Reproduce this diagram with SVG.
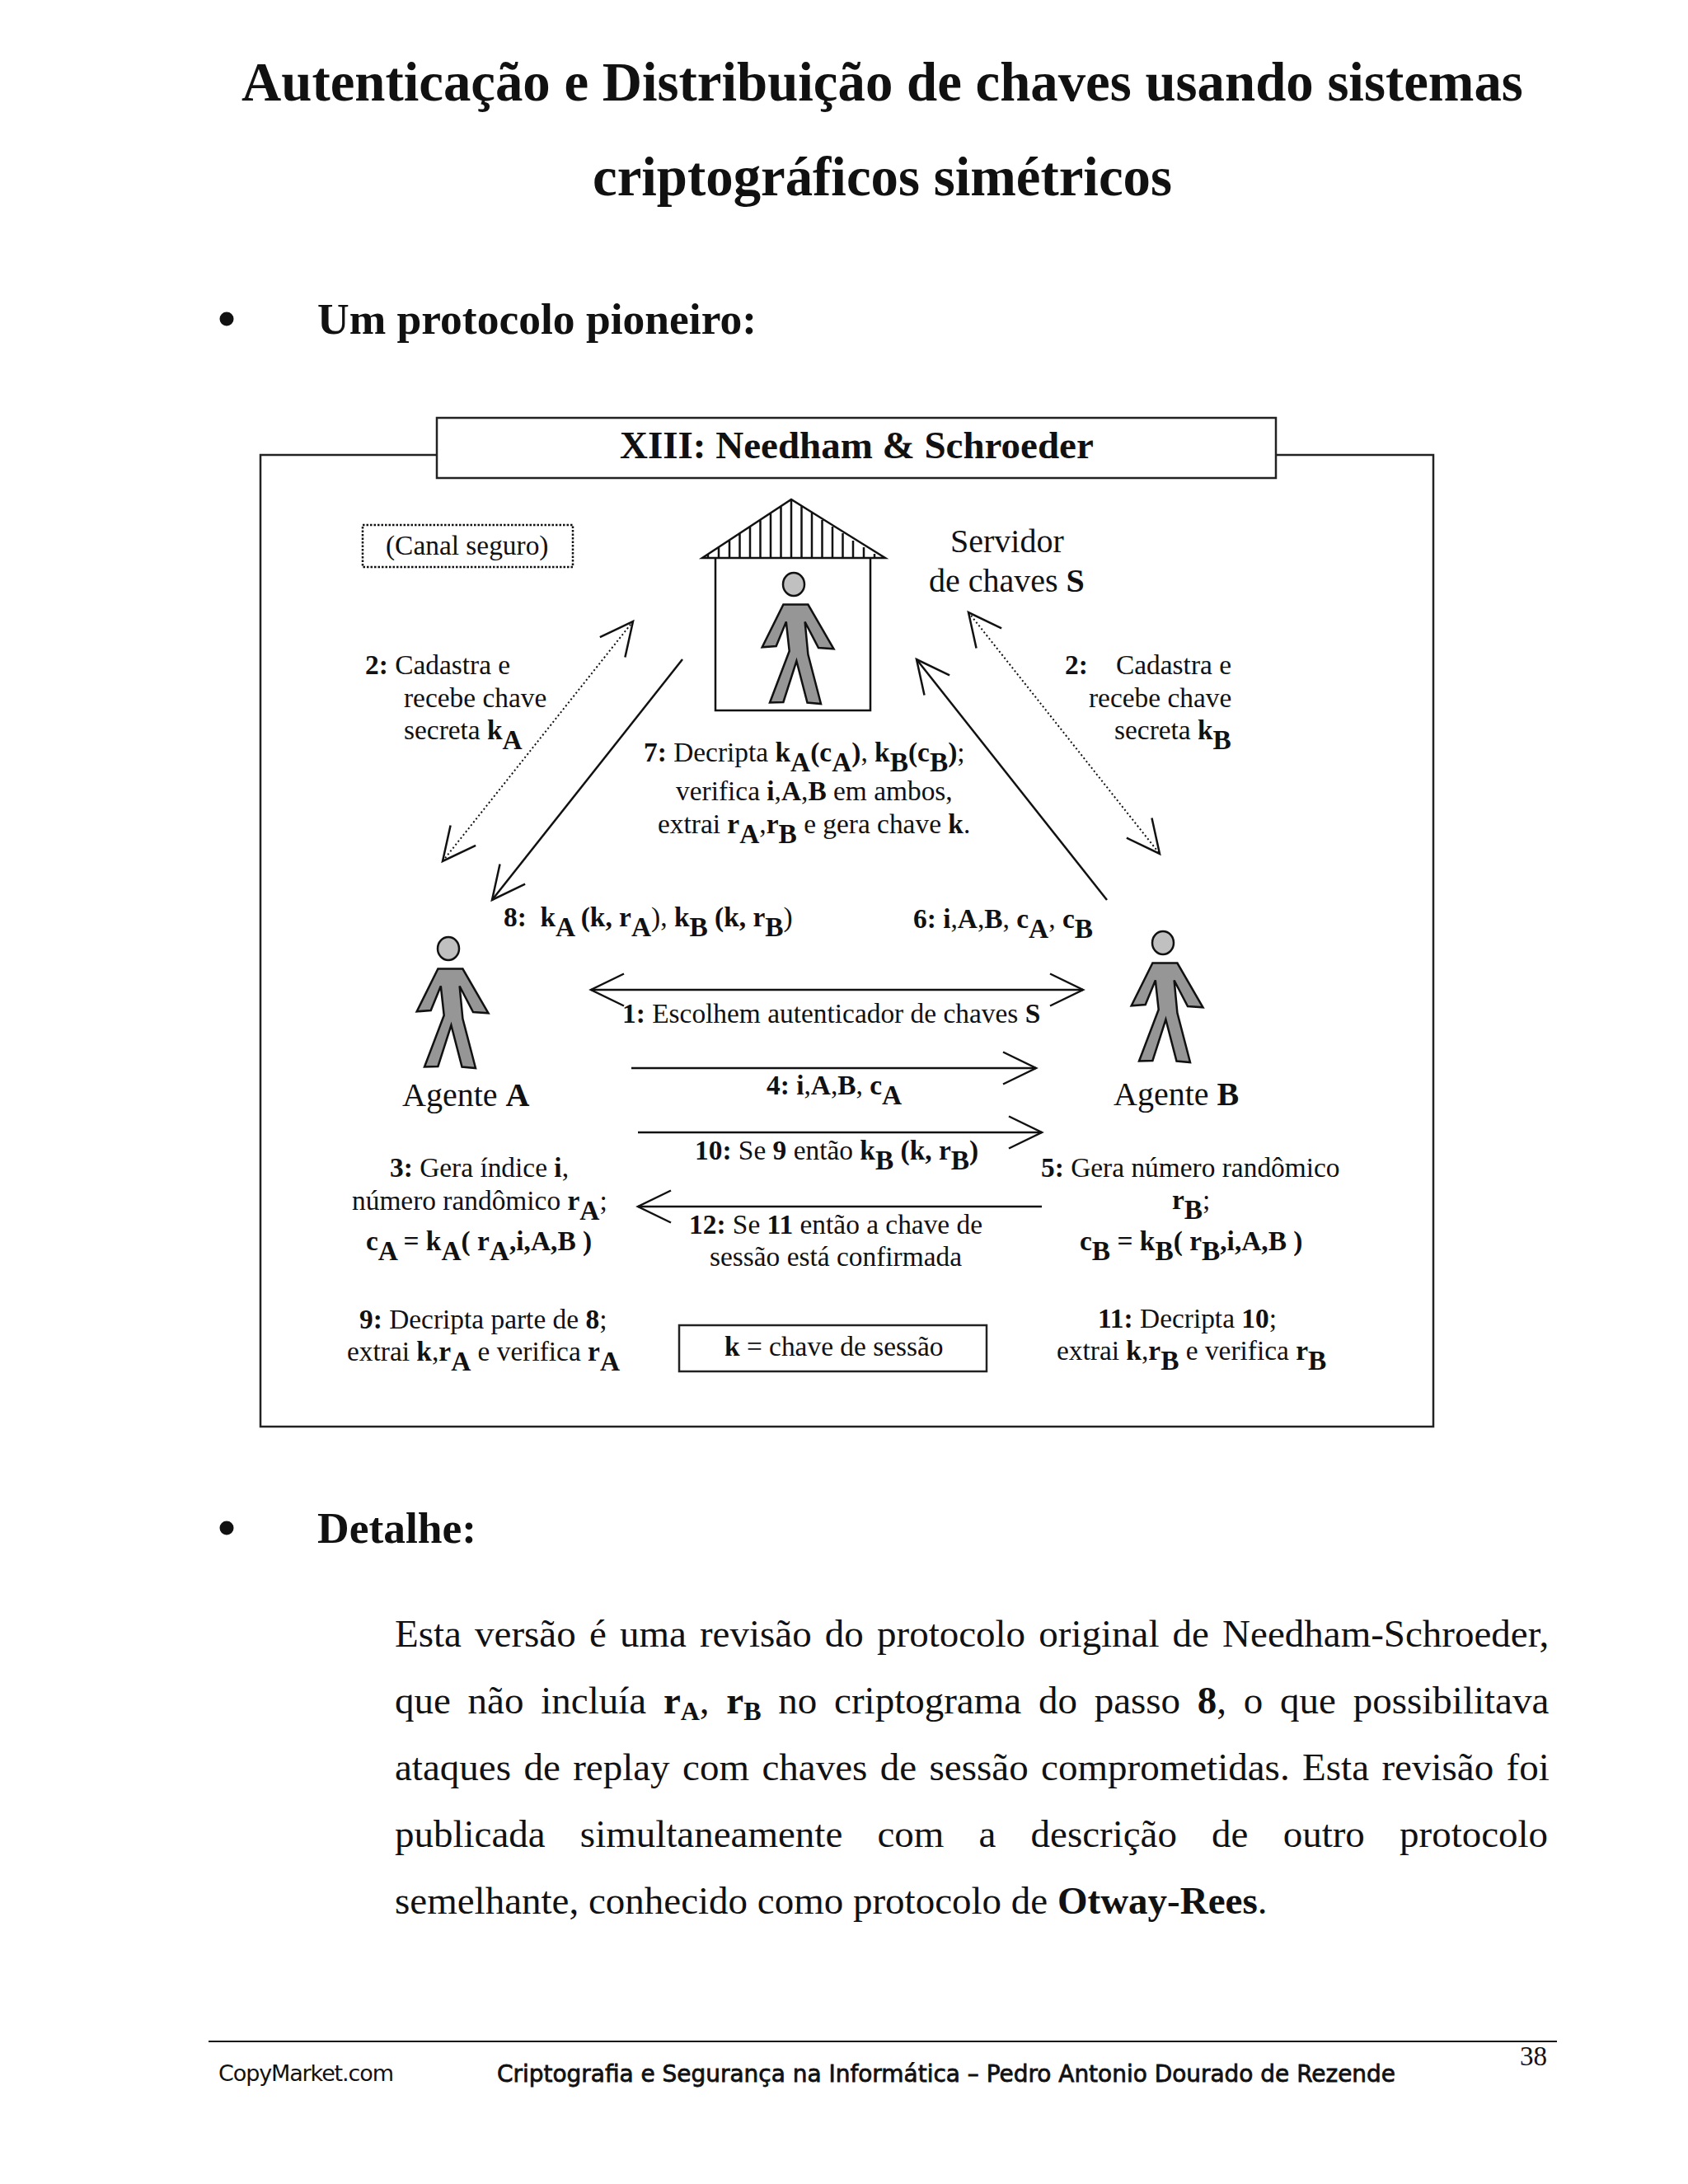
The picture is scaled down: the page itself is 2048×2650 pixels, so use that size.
<svg xmlns="http://www.w3.org/2000/svg" width="2048" height="2650" viewBox="0 0 2048 2650">
<style>
text{font-family:"Liberation Serif","Times New Roman",serif;fill:#111;white-space:pre}
.h1{font-size:66.8px;font-weight:bold}
.h2{font-size:53.5px;font-weight:bold}
.p{font-size:47px}
.d{font-size:33.4px}
.l{font-size:40px}
.b{font-weight:bold}
.fr{fill:#fff;stroke:#222;stroke-width:2.5}
.ln{fill:none;stroke:#111;stroke-width:2.5}
.dot{fill:none;stroke:#111;stroke-width:2;stroke-dasharray:2 3}
.solid{fill:none;stroke:#111;stroke-width:2.5}
.ar{marker-start:url(#open);marker-end:url(#open)}
.ae{marker-end:url(#open)}
</style>
<defs>
<marker id="open" orient="auto-start-reverse" markerUnits="userSpaceOnUse" markerWidth="60" markerHeight="60" refX="44" refY="22" viewBox="0 0 60 60"><path d="M4,2.5L44,22L4,41.5" fill="none" stroke="#111" stroke-width="2.5"/></marker>
<g id="person">
<ellipse cx="0" cy="0" rx="13" ry="14" fill="#c0c0c0" stroke="#111" stroke-width="2.5"/>
<path d="M-12.6,24.5L17.4,24.5L48.5,78.3L30,77L13.6,45.5L17.4,85L33,145L16.5,143.5L3.4,93L-12.6,143L-29,143.5L-5.3,81L-9.2,45.5L-21.3,75L-38.3,76.3Z" fill="#969696" stroke="#111" stroke-width="2.5" stroke-linejoin="miter"/>
</g>
</defs>
<rect width="2048" height="2650" fill="#fff"/>
<g id="heading">
<text class="h1" x="293" y="122">Autenticação e Distribuição de chaves usando sistemas</text>
<text class="h1" x="719" y="237">criptográficos simétricos</text>
<circle cx="275" cy="387" r="8.5" fill="#111"/>
<text class="h2" x="385" y="405">Um protocolo pioneiro:</text>
</g>
<g id="frame"><rect class="fr" x="316" y="552" width="1423" height="1179"/></g>
<g id="title-box"><rect class="fr" x="530" y="507" width="1018" height="73"/>
<text x="752" y="556" class="b" font-size="47">XIII: Needham &amp; Schroeder</text></g>
<g id="canal"><rect x="440" y="637" width="255" height="51" fill="#fff" stroke="#111" stroke-width="2.5" stroke-dasharray="2.5 2"/>
<text class="d" x="468" y="673">(Canal seguro)</text></g>
<g id="server">
<path class="ln" d="M852,677L960,606L1074,677ZM868,677V862H1056V677M859,672V677M872,664V677M885,656V677M897.500,647V677M910,639V677M922.500,631V677M935,622V677M947.500,614V677M960,606V677M972.500,614V677M985,622V677M997.500,631V677M1010,639V677M1022.500,647V677M1035,656V677M1048,664V677M1061,672V677"/>
<use href="#person" x="963" y="709"/>
<text class="l" x="1153" y="670">Servidor</text>
<text class="l" x="1127" y="718">de chaves <tspan class="b">S</tspan></text>
</g>
<g id="agent-a"><use href="#person" x="544" y="1151"/><text class="l" x="488" y="1342">Agente <tspan class="b">A</tspan></text></g>
<g id="agent-b"><use href="#person" x="1411" y="1144"/><text class="l" x="1351" y="1341">Agente <tspan class="b">B</tspan></text></g>
<g id="connectors">
<path class="dot ar" d="M537,1045L768,754"/>
<path class="dot ar" d="M1175,743L1407,1036"/>
<path class="solid ae" d="M828,800L597,1092"/>
<path class="solid ae" d="M1343,1092L1112,800"/>
<path class="solid ar" d="M717,1201H1314"/>
<path class="solid ae" d="M766,1296H1257"/>
<path class="solid ae" d="M774,1374H1264"/>
<path class="solid ae" d="M1264,1464H774"/>
</g>
<g id="labels">
<g id="label-2a">
<text class="d" x="443" y="818"><tspan class="b">2:</tspan> Cadastra e</text>
<text class="d" x="490" y="858">recebe chave</text>
<text class="d" x="490" y="897">secreta <tspan class="b">k</tspan><tspan class="b" dy="12">A</tspan></text>
</g>
<g id="label-2b">
<text class="d b" x="1292" y="818">2:</text><text class="d" x="1354" y="818">Cadastra e</text>
<text class="d" x="1321" y="858">recebe chave</text>
<text class="d" x="1352" y="897">secreta <tspan class="b">k</tspan><tspan class="b" dy="12">B</tspan></text>
</g>
<g id="label-7">
<text class="d" x="781" y="924"><tspan class="b">7:</tspan> Decripta <tspan class="b">k</tspan><tspan class="b" dy="12">A</tspan><tspan class="b" dy="-12">(c</tspan><tspan class="b" dy="12">A</tspan><tspan class="b" dy="-12">)</tspan>, <tspan class="b">k</tspan><tspan class="b" dy="12">B</tspan><tspan class="b" dy="-12">(c</tspan><tspan class="b" dy="12">B</tspan><tspan class="b" dy="-12">)</tspan>;</text>
<text class="d" x="820" y="971">verifica <tspan class="b">i</tspan>,<tspan class="b">A</tspan>,<tspan class="b">B</tspan> em ambos,</text>
<text class="d" x="798" y="1011">extrai <tspan class="b">r</tspan><tspan class="b" dy="12">A</tspan><tspan dy="-12">,</tspan><tspan class="b">r</tspan><tspan class="b" dy="12">B</tspan><tspan dy="-12"> e gera chave </tspan><tspan class="b">k</tspan>.</text>
</g>
<text id="label-8" class="d" x="611" y="1124"><tspan class="b">8:  k</tspan><tspan class="b" dy="12">A</tspan><tspan class="b" dy="-12"> (k, r</tspan><tspan class="b" dy="12">A</tspan><tspan dy="-12">), </tspan><tspan class="b">k</tspan><tspan class="b" dy="12">B</tspan><tspan class="b" dy="-12"> (k, r</tspan><tspan class="b" dy="12">B</tspan><tspan dy="-12">)</tspan></text>
<text id="label-6" class="d" x="1108" y="1126"><tspan class="b">6: i</tspan>,<tspan class="b">A</tspan>,<tspan class="b">B</tspan>, <tspan class="b">c</tspan><tspan class="b" dy="12">A</tspan><tspan dy="-12">, </tspan><tspan class="b">c</tspan><tspan class="b" dy="12">B</tspan></text>
<text id="label-1" class="d" x="755" y="1241"><tspan class="b">1:</tspan> Escolhem autenticador de chaves <tspan class="b">S</tspan></text>
<text id="label-4" class="d" x="930" y="1328"><tspan class="b">4: i</tspan>,<tspan class="b">A</tspan>,<tspan class="b">B</tspan>, <tspan class="b">c</tspan><tspan class="b" dy="12">A</tspan></text>
<text id="label-10" class="d" x="843" y="1407"><tspan class="b">10:</tspan> Se <tspan class="b">9</tspan> então <tspan class="b">k</tspan><tspan class="b" dy="12">B</tspan><tspan class="b" dy="-12"> (k, r</tspan><tspan class="b" dy="12">B</tspan><tspan class="b" dy="-12">)</tspan></text>
<g id="label-12">
<text class="d" x="836" y="1497"><tspan class="b">12:</tspan> Se <tspan class="b">11</tspan> então a chave de</text>
<text class="d" x="861" y="1536">sessão está confirmada</text>
</g>
<g id="label-3">
<text class="d" x="473" y="1428"><tspan class="b">3:</tspan> Gera índice <tspan class="b">i</tspan>,</text>
<text class="d" x="427" y="1468">número randômico <tspan class="b">r</tspan><tspan class="b" dy="12">A</tspan><tspan dy="-12">;</tspan></text>
<text class="d b" x="444" y="1517">c<tspan dy="12">A</tspan><tspan dy="-12"> = k</tspan><tspan dy="12">A</tspan><tspan dy="-12">( r</tspan><tspan dy="12">A</tspan><tspan dy="-12">,i,A,B )</tspan></text>
</g>
<g id="label-9">
<text class="d" x="436" y="1612"><tspan class="b">9:</tspan> Decripta parte de <tspan class="b">8</tspan>;</text>
<text class="d" x="421" y="1651">extrai <tspan class="b">k</tspan>,<tspan class="b">r</tspan><tspan class="b" dy="12">A</tspan><tspan dy="-12"> e verifica </tspan><tspan class="b">r</tspan><tspan class="b" dy="12">A</tspan></text>
</g>
<g id="key"><rect class="fr" x="824" y="1608" width="373" height="56"/>
<text class="d" x="879" y="1645"><tspan class="b">k</tspan> = chave de sessão</text></g>
<g id="label-5">
<text class="d" x="1263" y="1428"><tspan class="b">5:</tspan> Gera número randômico</text>
<text class="d" x="1422" y="1467"><tspan class="b">r</tspan><tspan class="b" dy="12">B</tspan><tspan dy="-12">;</tspan></text>
<text class="d b" x="1310" y="1517">c<tspan dy="12">B</tspan><tspan dy="-12"> = k</tspan><tspan dy="12">B</tspan><tspan dy="-12">( r</tspan><tspan dy="12">B</tspan><tspan dy="-12">,i,A,B )</tspan></text>
</g>
<g id="label-11">
<text class="d" x="1332" y="1611"><tspan class="b">11:</tspan> Decripta <tspan class="b">10</tspan>;</text>
<text class="d" x="1282" y="1650">extrai <tspan class="b">k</tspan>,<tspan class="b">r</tspan><tspan class="b" dy="12">B</tspan><tspan dy="-12"> e verifica </tspan><tspan class="b">r</tspan><tspan class="b" dy="12">B</tspan></text>
</g>
</g>
<g id="detail">
<circle cx="275" cy="1854" r="8.5" fill="#111"/>
<text class="h2" x="385" y="1872">Detalhe:</text>
<text class="p" x="479" y="1998" word-spacing="4.4">Esta versão é uma revisão do protocolo original de Needham-Schroeder,</text>
<text class="p" x="479" y="2079" word-spacing="9">que não incluía <tspan class="b">r</tspan><tspan class="b" font-size="32" dy="8">A</tspan><tspan dy="-8">, </tspan><tspan class="b">r</tspan><tspan class="b" font-size="32" dy="8">B</tspan><tspan dy="-8"> no criptograma do passo </tspan><tspan class="b">8</tspan>, o que possibilitava</text>
<text class="p" x="479" y="2160" word-spacing="3.7">ataques de replay com chaves de sessão comprometidas. Esta revisão foi</text>
<text class="p" x="479" y="2241" word-spacing="30.4">publicada simultaneamente com a descrição de outro protocolo</text>
<text class="p" x="479" y="2322">semelhante, conhecido como protocolo de <tspan class="b">Otway-Rees</tspan>.</text>
</g>
<g id="footer">
<path d="M253,2477H1889" stroke="#111" stroke-width="2" fill="none"/>
<text x="265" y="2525" font-size="27" textLength="213" style="font-family:'DejaVu Sans','Liberation Sans',sans-serif" fill="#222">CopyMarket.com</text>
<text x="603" y="2526" font-size="29" textLength="1090" lengthAdjust="spacingAndGlyphs" style="font-family:'DejaVu Sans','Liberation Sans',sans-serif" stroke="#111" stroke-width="0.8">Criptografia e Segurança na Informática – Pedro Antonio Dourado de Rezende</text>
<text x="1844" y="2506" font-size="33">38</text>
</g>
</svg>
